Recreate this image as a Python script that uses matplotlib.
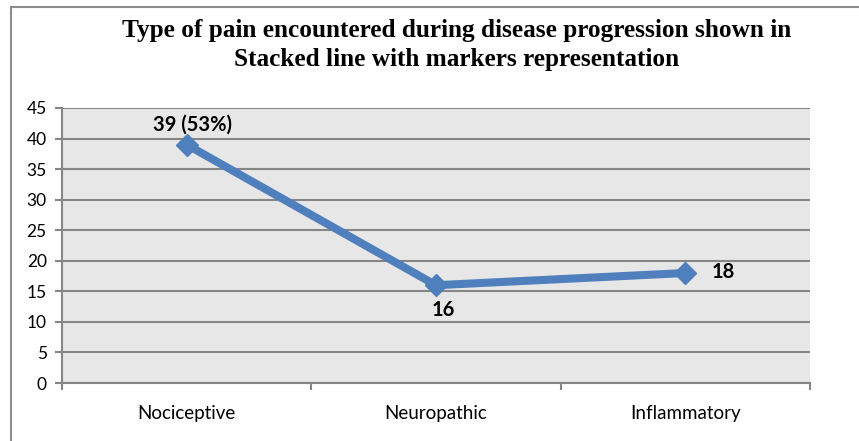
import matplotlib
matplotlib.use("Agg")
import matplotlib.pyplot as plt
from matplotlib.patches import Rectangle

# data
categories = ["Nociceptive", "Neuropathic", "Inflammatory"]
counts = [39, 16, 18]
point_labels = ["39 (53%)", "16", "18"]
y_ticks = [0, 5, 10, 15, 20, 25, 30, 35, 40, 45]

fig = plt.figure(figsize=(8.59, 4.41), dpi=100)
ax = fig.add_axes([62 / 859, 1 - 383 / 441, 748 / 859, 275 / 441])

# outer chart frame (only top and left edges are visible in the original)
fig.patches.append(Rectangle((11 / 859, -0.05), 1.2, 1 - 7 / 441 + 0.05,
                             transform=fig.transFigure, fill=False,
                             edgecolor="#8c8c8c", linewidth=1.5, zorder=0))

ax.set_facecolor("#e7e7e7")
x = list(range(len(categories)))
ax.plot(x, counts, color="#4f7fbc", linewidth=5.8, marker="D", markersize=11,
        markerfacecolor="#4f7fbc", markeredgecolor="#4f7fbc", zorder=3,
        solid_joinstyle="miter")

ax.set_xlim(-0.5, 2.5)
ax.set_ylim(0, 45)
ax.set_yticks(y_ticks)
ax.set_yticklabels([str(v) for v in y_ticks], fontsize=12.5, family="Lato")
ax.set_xticks(x)
ax.set_xticklabels(categories, fontsize=13.5, family="Lato")
ax.tick_params(axis="x", length=0, pad=16)
ax.set_xticks([-0.5, 0.5, 1.5, 2.5], minor=True)
ax.tick_params(axis="x", which="minor", length=5, color="#868686", width=1.5)
ax.tick_params(axis="y", length=5, color="#868686", width=1.5, pad=6)

ax.grid(axis="y", color="#868686", linewidth=1.5)
ax.set_axisbelow(True)
for side in ["top", "right"]:
    ax.spines[side].set_visible(False)
for side in ["left", "bottom"]:
    ax.spines[side].set_color("#868686")
    ax.spines[side].set_linewidth(1.5)

# data labels
ax.annotate(point_labels[0], (x[0], counts[0]), xytext=(4, 14.5),
            textcoords="offset points", ha="center", va="center",
            fontsize=14.5, fontweight="bold", family="Lato")
ax.annotate(point_labels[1], (x[1], counts[1]), xytext=(5, -17.5),
            textcoords="offset points", ha="center", va="center",
            fontsize=14.5, fontweight="bold", family="Lato")
ax.annotate(point_labels[2], (x[2], counts[2]), xytext=(19, 1),
            textcoords="offset points", ha="left", va="center",
            fontsize=14.5, fontweight="bold", family="Lato")

fig.text(457 / 859, 1 - 45 / 441,
         "Type of pain encountered during disease progression shown in\n"
         "Stacked line with markers representation",
         ha="center", va="center", fontsize=18.2, fontweight="bold",
         family="Liberation Serif", linespacing=1.3)

fig.savefig("out.png", dpi=100)
